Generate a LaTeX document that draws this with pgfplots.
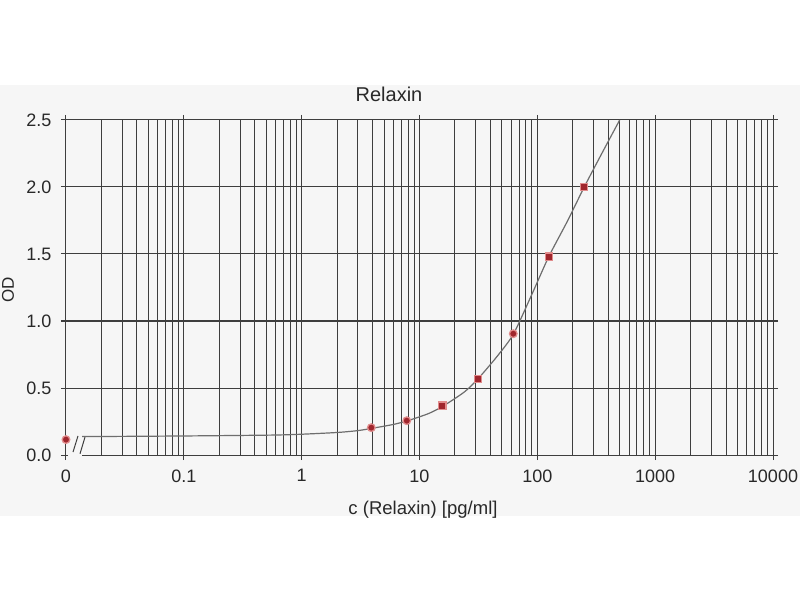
\documentclass[border=0pt]{standalone}
\usepackage{fontspec}
\setmainfont{Liberation Sans}
\usepackage{pgfplots}
\pgfplotsset{compat=1.18}
\definecolor{gridc}{RGB}{62,62,62}
\definecolor{ptc}{RGB}{160,38,45}
\definecolor{haloc}{RGB}{225,140,140}
\definecolor{curvec}{RGB}{110,110,110}
\definecolor{bgc}{RGB}{246,246,246}
\definecolor{txtc}{RGB}{40,40,40}
\begin{document}
\begin{tikzpicture}
\useasboundingbox (0pt,0pt) rectangle (800pt,600pt);
\fill[white] (0pt,0pt) rectangle (800pt,600pt);
\fill[bgc] (0pt,84pt) rectangle (800pt,515pt);
\begin{axis}[
  at={(66pt,145pt)}, anchor=south west,
  scale only axis, width=707pt, height=335pt,
  xmode=log, log basis x=10,
  xmin=0.01, xmax=10000, ymin=0, ymax=2.5,
  clip=false,
  xtick={0.01,0.1,1,10,100,1000,10000},
  xticklabels={0,0.1,1,10,100,1000,10000},
  minor xtick={0.02,0.03,0.04,0.05,0.06,0.07,0.08,0.09,
               0.2,0.3,0.4,0.5,0.6,0.7,0.8,0.9,
               2,3,4,5,6,7,8,9,
               20,30,40,50,60,70,80,90,
               200,300,400,500,600,700,800,900,
               2000,3000,4000,5000,6000,7000,8000,9000},
  ytick={0,0.5,1,1.5,2,2.5},
  yticklabels={0.0,0.5,1.0,1.5,2.0,2.5},
  xmajorgrids, xminorgrids, ymajorgrids,
  major grid style={gridc, line width=1pt},
  minor grid style={gridc, line width=1pt},
  tick align=outside,
  major tick length=5pt,
  minor tick length=0pt,
  tick style={gridc, line width=1pt},
  axis line style={gridc, line width=1pt},
  ticklabel style={font=\fontsize{18}{18}\selectfont, text=txtc},
  xticklabel style={yshift=-6pt},
  yticklabel style={xshift=-6pt},
]
% gap in the bottom axis line (broken axis)
\fill[bgc] (axis cs:0.0104,-0.012) rectangle (axis cs:0.0137,0.012);
\draw[gridc, line width=1pt] (axis cs:0.01147,0.022) -- (axis cs:0.01264,0.142);
\draw[gridc, line width=1pt] (axis cs:0.01315,0.009) -- (axis cs:0.01450,0.134);
% fitted curve
\addplot[curvec, line width=1.2pt, smooth, tension=0.4] coordinates {
 (0.0137,0.138) (0.03,0.139) (0.1,0.142) (0.3,0.146) (0.6,0.149) (1,0.155)
 (2,0.168) (3,0.182) (4,0.200) (6,0.228) (8,0.257) (12,0.310) (16,0.367)
 (24,0.470) (31.25,0.567) (45,0.730) (62.5,0.900) (90,1.200) (125,1.480)
 (180,1.745) (250,2.000) (350,2.245) (500,2.500)
};
% standards (circles)
\addplot[only marks, mark=*, mark size=3.8pt,
  mark options={fill=ptc, draw=haloc, line width=1.3pt}] coordinates {
 (0.01,0.115) (3.9,0.204) (7.8,0.256) (62.5,0.905)
};
% standards (squares)
\addplot[only marks, mark=square*, mark size=3.6pt,
  mark options={fill=ptc, draw=haloc, line width=1.3pt}] coordinates {
 (15.6,0.368) (31.25,0.567) (125,1.480) (250,2.000)
};
\end{axis}
\node[font=\fontsize{20}{20}\selectfont, text=txtc] at (389pt,505.5pt) {Relaxin};
\node[font=\fontsize{18.5}{18.5}\selectfont, text=txtc, anchor=base] at (423pt,86pt) {c (Relaxin) [pg/ml]};
\node[font=\fontsize{17}{17}\selectfont, text=txtc, rotate=90] at (8pt,310pt) {OD};
\end{tikzpicture}
\end{document}
